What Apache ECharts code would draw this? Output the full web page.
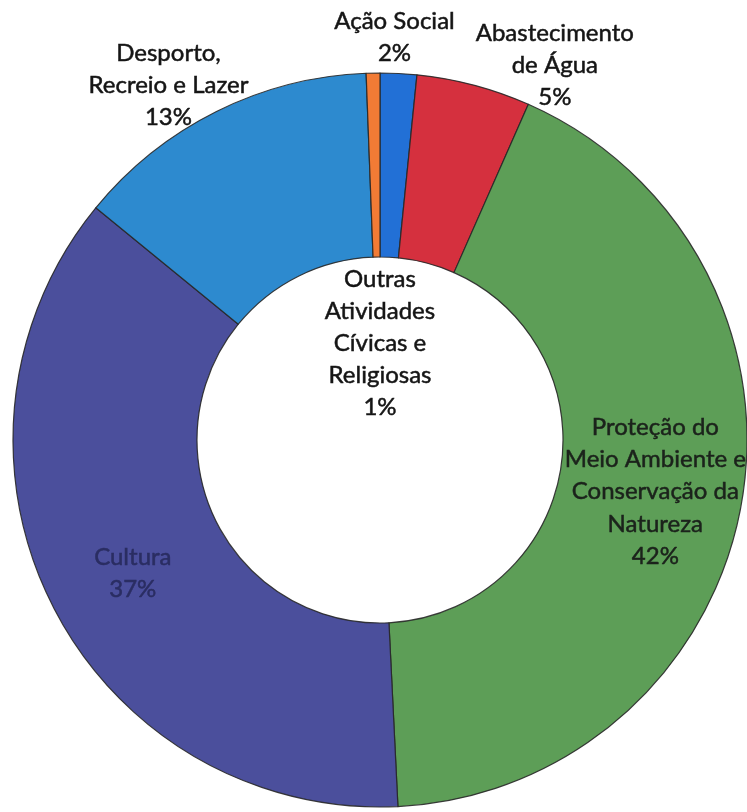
<!DOCTYPE html>
<html>
<head>
<meta charset="utf-8">
<script src="https://cdn.jsdelivr.net/npm/echarts@6/dist/echarts.min.js"></script>
<style>
  html, body { margin: 0; padding: 0; background: #ffffff; }
  #chart { width: 747px; height: 812px; }
</style>
</head>
<body>
<div id="chart"></div>
<script>
// ---- data ----
const categories = [
  'Ação Social',
  'Abastecimento\nde Água',
  'Proteção do\nMeio Ambiente e\nConservação da\nNatureza',
  'Cultura',
  'Desporto,\nRecreio e Lazer',
  'Outras\nAtividades\nCívicas e\nReligiosas'
];
const values = [1.6, 5.0, 42.45, 36.55, 13.45, 0.6];

// ---- styles ----
const colors = ['#2270d6', '#d5303e', '#5d9e57', '#4b4f9c', '#2d8acf', '#f27b35'];
const labelPlacement = ['outside', 'outside', 'inside', 'inside', 'outside', 'center'];
const labelColor = ['#151515', '#151515', '#1b221b', '#2a2d62', '#151515', '#151515'];
const labelShift = [[-4, -36], [81, -20], [2, 1], [1, 8], [-48, -26], [0, -97]];

const chart = echarts.init(document.getElementById('chart'), null, { renderer: 'canvas' });

const data = categories.map((name, i) => ({
  name: name,
  value: values[i],
  itemStyle: { color: colors[i] },
  label: {
    position: labelPlacement[i],
    color: labelColor[i],
    textBorderColor: labelColor[i],
    textBorderWidth: 0.5
  }
}));

chart.setOption({
  backgroundColor: '#ffffff',
  animation: false,
  series: [{
    type: 'pie',
    center: [380, 440],
    radius: [183, 367],
    startAngle: 90,
    clockwise: true,
    avoidLabelOverlap: false,
    itemStyle: { borderColor: 'rgba(40,40,40,0.9)', borderWidth: 1.2 },
    label: {
      show: true,
      fontFamily: 'Lato',
      fontSize: 24,
      lineHeight: 32,
      align: 'center',
      distanceToLabelLine: 0,
      formatter: function (p) { return p.name + '\n' + Math.round(p.value) + '%'; }
    },
    labelLine: { show: false, length: 0, length2: 0 },
    labelLayout: function (params) {
      const s = labelShift[params.dataIndex];
      return { dx: s[0], dy: s[1], align: 'center', verticalAlign: 'middle' };
    },
    emphasis: { disabled: true },
    data: data
  }]
});
</script>
</body>
</html>
